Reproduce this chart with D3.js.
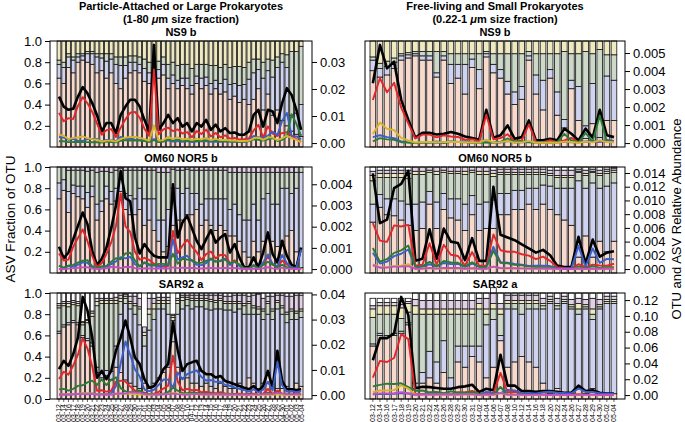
<!DOCTYPE html>
<html>
<head>
<meta charset="utf-8">
<title>ASV fraction of OTU</title>
<style>
  body { margin: 0; background: #fff; }
  svg { font-family: "Liberation Sans", Arial, Helvetica, sans-serif; }
  .tick text { font-size: 13px; }
  .tick line { stroke: #000; }
</style>
</head>
<body>
<svg id="chart" width="685" height="422"></svg>
<script src="https://cdn.jsdelivr.net/npm/d3@7/dist/d3.min.js"></script>
<script>
// sample dates (x tick labels)
const datesPA = ["03-12","03-14","03-16","03-17","03-18","03-19","03-20","03-21","03-22","03-23","03-24","03-25","03-26",
  "03-27","03-28","03-29","03-30","03-31","04-01","04-02","04-03","04-04","04-05","04-06","04-07","04-08","04-09","04-10",
  "04-11","04-12","04-13","04-14","04-15","04-16","04-17","04-18","04-19","04-20","04-21","04-22","04-23","04-24","04-25",
  "04-26","04-27","04-28","04-29","04-30","05-01","05-02","05-03","05-04"];
const datesFL = ["03-12","03-14","03-16","03-17","03-18","03-19","03-20","03-21","03-22","03-24","03-26","03-28","03-29",
  "03-30","03-31","04-02","04-04","04-06","04-07","04-08","04-10","04-12","04-14","04-16","04-18","04-20","04-22","04-24",
  "04-26","04-27","04-28","04-29","04-30","05-02","05-04"];

// ---- NS9 b, particle-attached (OTU abundance x1e-3, ASV fractions of OTU)
const ns9PaOtu = [17.2,13.5,12.3,12.7,17.2,20.7,18.4,14.8,10.4,4.3,7.4,7.4,3.7,10.4,13.5,16.0,16.0,13.5,8.6,4.3,36.3,4.9,7.4,10.4,7.4,9.2,6.1,7.4,4.3,7.4,6.1,8.6,4.9,6.8,4.3,5.5,3.7,3.9,3.1,3.1,4.3,10.4,12.3,6.1,12.3,11.7,7.4,14.8,20.3,17.8,12.3,4.9];
const ns9PaRed = [.65,.60,.75,.70,.80,.82,.80,.78,.70,.72,.65,.70,.60,.55,.65,.70,.72,.70,.62,.60,.75,.65,.68,.55,.60,.55,.58,.55,.50,.60,.55,.58,.50,.55,.50,.52,.45,.48,.42,.45,.40,.45,.55,.35,.50,.30,.35,.25,.20,.15,.12,.10];
const ns9PaBlue = [.13,.15,.10,.12,.05,.04,.08,.10,.15,.12,.16,.13,.18,.22,.12,.10,.08,.08,.12,.10,.04,.08,.10,.10,.08,.08,.07,.10,.08,.07,.10,.08,.10,.08,.10,.12,.14,.12,.16,.14,.24,.25,.18,.30,.22,.36,.40,.55,.55,.15,.20,.30];
const ns9PaGreen = [.04,.05,.03,.03,.03,.02,.02,.02,.03,.04,.07,.05,.07,.08,.08,.06,.06,.07,.09,.10,.03,.08,.07,.13,.12,.14,.13,.13,.16,.11,.13,.12,.17,.14,.15,.14,.16,.16,.18,.16,.16,.13,.10,.15,.11,.16,.10,.08,.12,.60,.58,.55];
const ns9PaYellow = [.18,.20,.12,.15,.12,.12,.10,.10,.12,.12,.12,.12,.15,.15,.15,.14,.14,.15,.17,.20,.18,.19,.15,.22,.20,.23,.22,.22,.26,.22,.22,.22,.23,.23,.25,.22,.25,.24,.24,.25,.20,.17,.17,.20,.17,.18,.15,.12,.13,.10,.10,.05];
const ns9PaPurple = new Array(52).fill(0);
const ns9PaOther = new Array(52).fill(0);

// ---- NS9 b, free-living (x1e-3)
const ns9FlOtu = [3.32,5.45,4.15,4.52,2.40,1.30,0.30,0.57,0.57,0.48,0.52,0.61,0.52,0.37,0.28,0.19,1.85,0.30,0.43,0.98,0.24,0.33,1.26,0.15,0.15,0.24,0.15,0.80,0.52,0.15,0.80,0.30,1.85,0.43,0.33];
const ns9FlRed = [.72,.66,.68,.74,.82,.84,.86,.82,.82,.66,.82,.60,.65,.50,.75,.55,.85,.70,.65,.50,.40,.45,.82,.50,.35,.65,.30,.18,.55,.25,.08,.22,.05,.25,.25];
const ns9FlBlue = [.10,.08,.08,.06,.04,.03,.02,.04,.04,.04,.04,.18,.13,.28,.08,.18,.03,.08,.08,.12,.12,.12,.04,.18,.28,.08,.22,.08,.08,.32,.12,.38,.04,.42,.38];
const ns9FlGreen = [.03,.05,.05,.04,.02,.02,.02,.04,.04,.20,.04,.10,.10,.10,.05,.15,.02,.10,.15,.26,.36,.31,.04,.20,.25,.15,.36,.64,.25,.31,.70,.28,.83,.20,.24];
const ns9FlYellow = [.15,.21,.19,.16,.12,.11,.10,.10,.10,.10,.10,.12,.12,.12,.12,.12,.10,.12,.12,.12,.12,.12,.10,.12,.12,.12,.12,.10,.12,.12,.10,.12,.08,.13,.13];
const ns9FlPurple = new Array(35).fill(0);
const ns9FlOther = new Array(35).fill(0);

// ---- OM60 NOR5 b, particle-attached (x1e-3)
const omPaOtu = [1.05,0.52,0.78,1.41,2.04,2.67,2.12,0.86,0.20,0.47,1.02,1.93,2.99,4.63,3.35,3.20,1.49,0.74,1.18,0.86,0.63,0.55,0.55,0.55,4.00,1.49,2.20,2.51,1.93,1.33,0.94,1.41,1.84,1.25,1.49,1.65,0.78,1.18,0.55,0.08,0.08,0.55,0.08,0.78,1.73,0.71,0.31,1.33,0.63,0.20,0.10,1.02];
const omPaRed = [.70,.78,.57,.75,.72,.70,.62,.72,.50,.58,.70,.65,.68,.77,.60,.55,.55,.60,.45,.50,.40,.30,.20,.25,.45,.50,.50,.55,.55,.60,.45,.50,.45,.40,.45,.40,.35,.35,.30,.20,.15,.30,.20,.30,.35,.30,.25,.30,.35,.40,.20,.05];
const omPaBlue = [.15,.10,.20,.08,.10,.12,.14,.10,.15,.10,.12,.12,.12,.12,.15,.18,.15,.20,.25,.20,.30,.20,.30,.35,.35,.30,.25,.25,.20,.15,.20,.20,.25,.30,.25,.30,.25,.30,.25,.30,.35,.35,.30,.40,.40,.35,.40,.50,.45,.35,.60,.90];
const omPaGreen = [.15,.12,.20,.14,.15,.15,.20,.15,.30,.28,.14,.18,.17,.10,.22,.24,.27,.17,.27,.27,.27,.45,.45,.35,.18,.17,.22,.18,.22,.22,.32,.27,.27,.27,.27,.27,.35,.30,.40,.45,.45,.30,.45,.25,.20,.30,.30,.15,.15,.20,.15,.05];
const omPaYellow = new Array(52).fill(0);
const omPaPurple = [0,0,.03,.03,.03,.03,.04,.03,.05,.04,.04,.05,.03,.01,.03,.03,.03,.03,.03,.03,.03,.05,.05,.05,.02,.03,.03,.02,.03,.03,.03,.03,.03,.03,.03,.03,.05,.05,.05,.05,.05,.05,.05,.05,.05,.05,.05,.05,.05,.05,.05,0];
const omPaOther = new Array(52).fill(0);

// ---- OM60 NOR5 b, free-living (x1e-3)
const omFlOtu = [13.95,6.7,7.2,11.8,12.4,14.3,1.2,1.5,5.8,1.5,5.9,4.0,3.8,1.3,4.5,1.2,1.2,12.0,5.0,4.6,4.2,3.6,3.0,2.4,2.8,2.0,0.5,0.3,0.3,4.7,0.8,4.3,1.8,2.4,2.6];
const omFlRed = [.48,.62,.55,.54,.50,.45,.40,.42,.65,.42,.60,.52,.50,.40,.55,.40,.42,.42,.55,.55,.60,.60,.65,.60,.65,.60,.55,.50,.45,.15,.35,.15,.30,.20,.30];
const omFlBlue = [.17,.12,.15,.16,.18,.20,.25,.25,.12,.25,.15,.18,.20,.25,.18,.25,.25,.27,.20,.20,.18,.18,.15,.20,.18,.22,.25,.30,.35,.72,.45,.70,.50,.62,.55];
const omFlGreen = [.22,.16,.20,.20,.22,.24,.28,.26,.18,.26,.20,.24,.24,.28,.22,.28,.26,.22,.18,.18,.15,.15,.13,.13,.10,.10,.10,.10,.10,.08,.12,.10,.12,.12,.10];
const omFlYellow = [.05,.04,.04,.04,.04,.05,.03,.03,.02,.03,.02,.02,.02,.03,.02,.03,.03,.03,.02,.02,.02,.02,.02,.02,.02,.02,.02,.02,.02,.01,.02,.01,.02,.02,.02];
const omFlPurple = [.04,.03,.03,.03,.03,.03,.04,.04,.03,.04,.03,.04,.04,.04,.03,.04,.04,.03,.03,.03,.03,.03,.03,.03,.03,.03,.05,.05,.05,.02,.03,.02,.03,.02,.02];
const omFlOther = [.04,.03,.03,.03,.03,.03,0,0,0,0,0,0,0,0,0,0,0,.03,.02,.02,.02,.02,.02,.02,.02,.03,.03,.03,.03,.02,.03,.02,.03,.02,.01];

// ---- SAR92 a, particle-attached (x1e-3)
const sarPaOtu = [10.3,13.6,11.6,16.3,22.9,39.0,33.6,22.9,6.9,9.6,6.3,9.6,17.6,22.9,29.6,22.9,14.9,12.3,6.3,2.9,3.5,6.3,10.3,12.3,28.9,18.0,9.6,12.3,13.0,13.6,9.6,8.3,8.3,7.0,7.6,5.6,5.0,4.3,3.6,2.9,2.3,3.6,1.6,3.6,9.6,3.0,17.6,5.6,2.3,2.3,2.0,2.3];
const sarPaRed = [.62,.68,.70,.72,.70,.58,.55,.50,.25,.20,.22,.18,.30,.25,.18,.15,.12,.10,.15,.10,.15,.20,.25,.30,.54,.30,.20,.20,.15,.15,.12,.15,.12,.10,.15,.12,.10,.10,.15,.10,.20,.15,.10,.15,.25,.15,.10,.10,.12,.10,.15,.12];
const sarPaBlue = [.02,.02,.02,.02,.02,.02,.02,.03,.05,.05,.05,.08,.20,.55,.72,.70,.68,.60,.35,.55,.60,.65,.60,.50,.10,.50,.65,.68,.70,.72,.75,.70,.72,.75,.70,.72,.74,.72,.70,.70,.60,.65,.70,.60,.55,.60,.75,.70,.60,.65,.60,.65];
const sarPaGreen = [.22,.18,.15,.15,.16,.10,.15,.25,.58,.65,.63,.64,.40,.12,.05,.05,.08,.15,.10,.15,.10,.05,.05,.10,.10,.10,.08,.06,.08,.06,.06,.08,.08,.06,.08,.06,.06,.08,.05,.08,.10,.06,.05,.08,.10,.08,.06,.06,.08,.08,.06,.06];
const sarPaYellow = [.02,.02,.03,.02,.02,.02,.02,.03,.04,.03,.03,.03,.03,.03,.02,.02,.02,.02,.03,.05,.05,.03,.03,.03,.03,.03,.03,.02,.02,.02,.02,.02,.02,.02,.02,.02,.02,.02,.02,.02,.02,.02,.02,.02,.02,.02,.02,.02,.02,.02,.02,.02];
const sarPaPurple = [.02,.02,.02,.02,.02,.01,.01,.02,.03,.02,.02,.02,.03,.03,.02,.05,.07,.08,.05,.10,.05,.03,.03,.03,.02,.02,.02,.02,.03,.03,.03,.03,.04,.05,.03,.05,.05,.06,.06,.08,.05,.10,.12,.10,.05,.12,.05,.10,.15,.12,.15,.13];
const sarPaOther = [.10,.08,.08,.07,.08,.27,.25,.17,.05,.05,.05,.05,.04,.02,.01,.03,.03,.05,0,.05,.05,.04,.04,.04,.01,.05,.02,.02,.02,.02,.02,.02,.02,.02,.02,.03,.03,.02,.02,.02,.03,.02,.01,.05,.03,.03,.02,.02,.03,.03,.02,.02];

// ---- SAR92 a, free-living (x1e-2)
const sarFlOtu = [4.4,7.2,7.2,7.8,12.4,10.1,0.85,1.05,1.0,0.9,0.8,0.8,1.0,1.1,1.3,0.4,0.8,0.6,5.1,1.2,1.2,0.5,0.5,0.4,0.5,0.5,0.4,0.3,0.3,1.2,0.5,0.6,0.3,0.2,0.2];
const sarFlRed = [.50,.60,.58,.60,.62,.70,.10,.15,.20,.15,.25,.10,.35,.30,.40,.35,.20,.30,.55,.30,.35,.40,.35,.30,.15,.05,.10,.05,.05,.10,.05,.10,.05,.05,.05];
const sarFlBlue = [.02,.02,.02,.02,.02,.02,.05,.10,.25,.20,.30,.10,.15,.20,.10,.15,.50,.45,.05,.55,.50,.40,.50,.55,.70,.85,.75,.85,.80,.70,.80,.65,.80,.85,.85];
const sarFlGreen = [.25,.18,.20,.18,.12,.10,.65,.55,.35,.45,.25,.60,.30,.30,.30,.35,.10,.10,.20,.05,.05,.10,.05,.05,.03,.02,.03,.02,.02,.05,.02,.05,.02,.02,.02];
const sarFlYellow = [.08,.08,.08,.08,.10,.08,.08,.05,.05,.05,.05,.05,.05,.05,.05,.05,.05,.05,.05,.03,.03,.03,.03,.03,.02,.02,.02,.02,.02,.05,.02,.05,.02,.02,.02];
const sarFlPurple = [.03,.03,.03,.03,.03,.02,.06,.08,.08,.08,.08,.08,.08,.08,.08,.05,.10,.10,.05,.05,.05,.05,.05,.05,.05,.03,.05,.03,.05,.05,.05,.10,.05,.03,.03];
const sarFlOther = [.07,.04,.04,.04,.06,.03,.06,.07,.07,.07,.07,.07,.07,.07,.07,.05,.05,.05,.10,.02,.02,.02,.02,.02,.05,.03,.05,.03,.06,.05,.06,.05,.06,.03,.03];

const keys = ['red','blue','green','yellow','purple','other'];
const fills = {red:'#f7d9cd', blue:'#cfd3ef', green:'#cdd9c8', yellow:'#efe9bf', purple:'#e2d0e8', other:'#ffffff'};
const strokes = {red:'#e2262b', blue:'#3b5ec8', green:'#2d7a37', yellow:'#d7b52b', purple:'#c24fc6'};

const panels = [
  {row:0, col:0, title:'NS9 b', otu:ns9PaOtu, unit:1e-3, fr:[ns9PaRed,ns9PaBlue,ns9PaGreen,ns9PaYellow,ns9PaPurple,ns9PaOther], ticks:[0,0.01,0.02,0.03], fmt:'.2f'},
  {row:0, col:1, title:'NS9 b', otu:ns9FlOtu, unit:1e-3, fr:[ns9FlRed,ns9FlBlue,ns9FlGreen,ns9FlYellow,ns9FlPurple,ns9FlOther], ticks:[0,0.001,0.002,0.003,0.004,0.005], fmt:'.3f'},
  {row:1, col:0, title:'OM60 NOR5  b', otu:omPaOtu, unit:1e-3, fr:[omPaRed,omPaBlue,omPaGreen,omPaYellow,omPaPurple,omPaOther], ticks:[0,0.001,0.002,0.003,0.004], fmt:'.3f'},
  {row:1, col:1, title:'OM60 NOR5  b', otu:omFlOtu, unit:1e-3, fr:[omFlRed,omFlBlue,omFlGreen,omFlYellow,omFlPurple,omFlOther], ticks:[0,0.002,0.004,0.006,0.008,0.010,0.012,0.014], fmt:'.3f'},
  {row:2, col:0, title:'SAR92 a', otu:sarPaOtu, unit:1e-3, fr:[sarPaRed,sarPaBlue,sarPaGreen,sarPaYellow,sarPaPurple,sarPaOther], ticks:[0,0.01,0.02,0.03,0.04], fmt:'.2f'},
  {row:2, col:1, title:'SAR92 a', otu:sarFlOtu, unit:1e-2, fr:[sarFlRed,sarFlBlue,sarFlGreen,sarFlYellow,sarFlPurple,sarFlOther], ticks:[0,0.02,0.04,0.06,0.08,0.10,0.12], fmt:'.2f'}
];

const cols = [
  {x0:50, x1:312, bars:[56.6, 303.5], dates:datesPA},
  {x0:365, x1:625, bars:[369.3, 617.5], dates:datesFL}
];
const rowTop = [41, 167, 293], rowH = 106;

const svg = d3.select('#chart');

panels.forEach(p => {
  const c = cols[p.col];
  const top = rowTop[p.row], bottom = top + rowH;
  const n = p.otu.length;
  const g = svg.append('g');

  const x = d3.scaleBand().domain(d3.range(n)).range(c.bars).paddingInner(0.2).paddingOuter(0.1);
  const yFrac = d3.scaleLinear().domain([0, 1]).range([bottom, top]);
  const M = d3.max(p.otu) * p.unit;
  const yAb = d3.scaleLinear().domain([-0.04 * M, 1.04 * M]).range([bottom, top]);

  // stacked fractions
  const rows = d3.range(n).map(i => {
    const r = {i};
    keys.forEach((k, j) => r[k] = p.fr[j][i]);
    return r;
  });
  const series = d3.stack().keys(keys)(rows);
  g.selectAll('g.s').data(series).join('g')
    .attr('fill', s => fills[s.key])
    .selectAll('rect').data(s => s.filter(d => d[1] - d[0] > 0)).join('rect')
    .attr('x', d => x(d.data.i))
    .attr('width', x.bandwidth())
    .attr('y', d => yFrac(d[1]))
    .attr('height', d => yFrac(d[0]) - yFrac(d[1]))
    .attr('stroke', '#111').attr('stroke-width', 0.8);

  // abundance lines: OTU total then each ASV
  const cx = i => x(i) + x.bandwidth() / 2;
  const line = d3.line().x((v, i) => cx(i)).y(v => yAb(v));
  g.append('path').datum(p.otu.map(v => v * p.unit))
    .attr('d', line).attr('fill', 'none').attr('stroke', '#000')
    .attr('stroke-width', 2.6).attr('stroke-linejoin', 'round');
  keys.slice(0, 5).forEach((k, j) => {
    const vals = p.otu.map((v, i) => v * p.unit * p.fr[j][i]);
    if (d3.max(vals) <= 0) return;
    g.append('path').datum(vals)
      .attr('d', line).attr('fill', 'none').attr('stroke', strokes[k])
      .attr('stroke-width', 1.9).attr('stroke-linejoin', 'round');
  });

  // box
  g.append('rect').attr('x', c.x0).attr('y', top).attr('width', c.x1 - c.x0).attr('height', rowH)
    .attr('fill', 'none').attr('stroke', '#000').attr('stroke-width', 1);

  // axes
  if (p.col === 0) {
    const lt = p.row === 2 ? [0, 0.2, 0.4, 0.6, 0.8, 1.0] : [0.2, 0.4, 0.6, 0.8, 1.0];
    g.append('g').attr('transform', `translate(${c.x0},0)`)
      .call(d3.axisLeft(yFrac).tickValues(lt).tickFormat(d3.format('.1f')).tickSize(5).tickPadding(3))
      .call(a => a.select('.domain').remove());
  }
  g.append('g').attr('transform', `translate(${c.x1},0)`)
    .call(d3.axisRight(yAb).tickValues(p.ticks).tickFormat(d3.format(p.fmt)).tickSize(5).tickPadding(3))
    .call(a => a.select('.domain').remove());

  if (p.row === 2) {
    const xa = g.append('g').attr('transform', `translate(0,${bottom})`);
    xa.selectAll('line').data(d3.range(n)).join('line')
      .attr('x1', cx).attr('x2', cx).attr('y1', 0).attr('y2', 3).attr('stroke', '#000').attr('stroke-width', 0.6);
    xa.selectAll('text').data(c.dates).join('text')
      .attr('transform', (d, i) => `translate(${cx(i) + 2.4},5) rotate(-90)`)
      .attr('text-anchor', 'end').attr('font-size', 7).text(d => d);
  }

  // panel title
  svg.append('text').attr('x', (c.x0 + c.x1) / 2).attr('y', top - 5)
    .attr('text-anchor', 'middle').attr('font-size', 11).attr('font-weight', 'bold').text(p.title);
});

// column headers
const heads = [
  ['Particle-Attached or Large Prokaryotes', '(1-80 \u03bcm size fraction)'],
  ['Free-living and Small Prokaryotes', '(0.22-1 \u03bcm size fraction)']
];
heads.forEach((h, j) => {
  const xm = (cols[j].x0 + cols[j].x1) / 2;
  svg.append('text').attr('x', xm).attr('y', 10).attr('text-anchor', 'middle')
    .attr('font-size', 11).attr('font-weight', 'bold').text(h[0]);
  const t = svg.append('text').attr('x', xm).attr('y', 23).attr('text-anchor', 'middle')
    .attr('font-size', 11).attr('font-weight', 'bold');
  const parts = h[1].split('\u03bc');
  t.append('tspan').text(parts[0]);
  t.append('tspan').attr('font-style', 'italic').text('\u03bc');
  t.append('tspan').text(parts[1]);
});

// axis titles
svg.append('text').attr('transform', 'translate(15,219) rotate(-90)')
  .attr('text-anchor', 'middle').attr('font-size', 13.5).text('ASV Fraction of OTU');
svg.append('text').attr('transform', 'translate(681,219) rotate(-90)')
  .attr('text-anchor', 'middle').attr('font-size', 13).text('OTU and ASV Relative Abundance');
</script>
</body>
</html>
